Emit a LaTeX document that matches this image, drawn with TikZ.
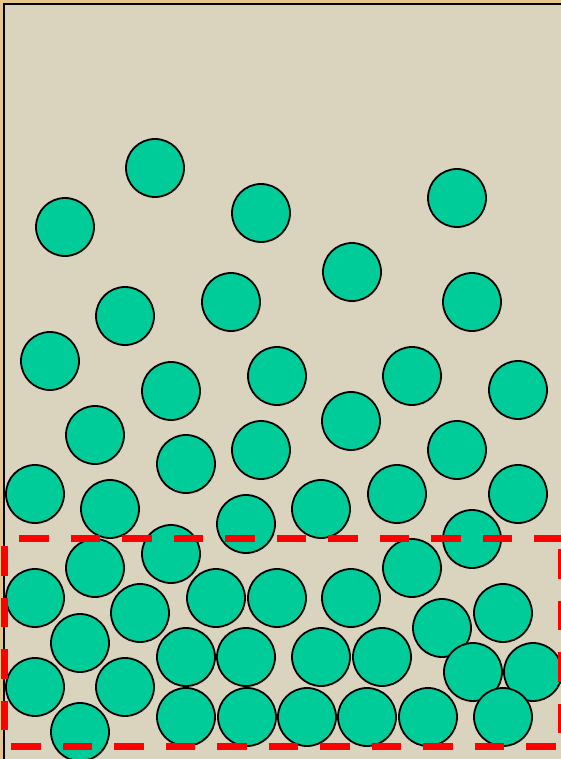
\documentclass[tikz,border=0pt]{standalone}
\usepackage{xcolor}
\usepackage{tikz}
\definecolor{ballgreen}{RGB}{0,204,153}
\definecolor{parchment}{RGB}{218,212,190}
\definecolor{frametan}{RGB}{228,198,138}

\begin{document}
\begin{tikzpicture}[
    x=1pt, y=-1pt,
    ball/.style={circle, draw, line width=1.8pt, fill=ballgreen, minimum size=58pt, inner sep=0pt},
    zone/.style={draw=red, line width=7.5pt, dash pattern=on 29.5pt off 22pt}
]
\clip (0,0) rectangle (561,759);
% background sheet
\fill[frametan] (0,0) rectangle (561,759);
\fill[parchment] (4,4) rectangle (561,759);
\draw[line width=2pt] (4.2,759) -- (4.2,4.2) -- (561,4.2);

% particles
\foreach \x/\y [count=\i] in {
    155/168, 65/227, 261/213, 457/198, 352/272, 231/302, 125/316, 472/302,
    50/361, 171/391, 277/376, 412/376, 518/390, 95/435, 186/464, 261/450,
    351/421, 457/450, 35/494, 110/509, 246/524, 321/509, 397/494, 518/494,
    472/539, 171/554, 95/568, 412/568, 35/598, 140/613, 216/598, 277/598,
    351/598, 442/628, 503/613, 80/643, 186/657, 246/657, 321/657, 382/657,
    473/672, 533/672, 35/687, 125/687, 80/732, 186/717, 247/717, 307/717,
    367/717, 428/717, 503/717}
  \node[ball] (b\i) at (\x,\y) {};

% dashed region
\coordinate (tl) at (4.5,538.5);
\coordinate (tr) at (562,538.5);
\coordinate (bl) at (4.5,746.5);
\coordinate (br) at (562,746.5);
\draw[zone, dash phase=37pt] (tl) -- (tr);
\draw[zone, dash phase=44pt] (tl) -- (bl);
\draw[zone, dash phase=45pt] (bl) -- (br);
\draw[zone, dash phase=41pt] (tr) -- (br);
\end{tikzpicture}
\end{document}
